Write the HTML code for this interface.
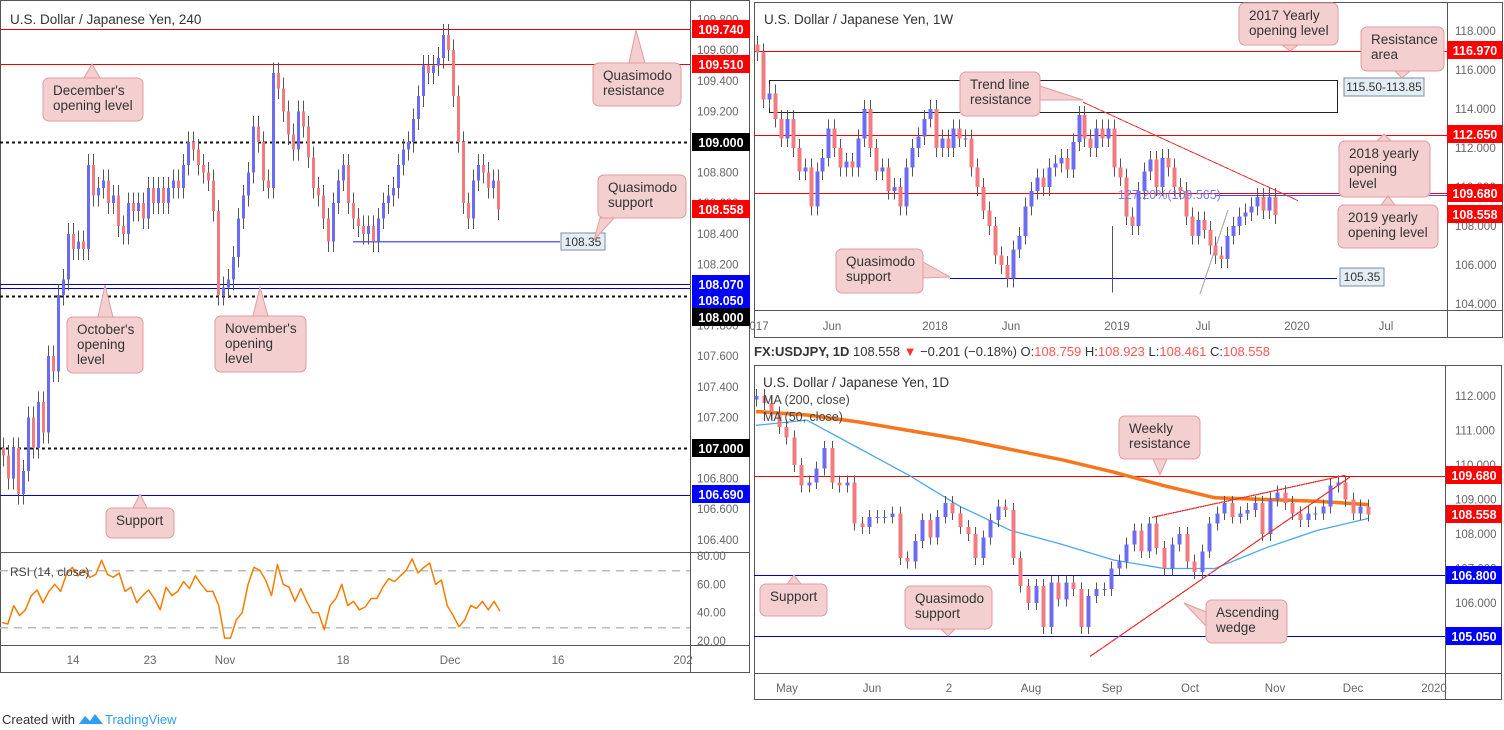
<!DOCTYPE html>
<html><head><meta charset="utf-8"><style>
body{margin:0;background:#fff;}
svg{display:block;font-family:"Liberation Sans",sans-serif;}
line,rect{shape-rendering:crispEdges;}
</style></head><body>
<svg id="s" width="1504" height="730" viewBox="0 0 1504 730" xmlns="http://www.w3.org/2000/svg"></svg>
<script>
// ---- data: 240 (4h) chart ----
const h4Closes=[106.95,106.8,107.0,106.7,106.85,107.2,107.0,107.3,107.1,107.6,107.5,108.0,108.1,108.4,108.3,108.35,108.3,108.85,108.65,108.7,108.75,108.6,108.65,108.45,108.4,108.6,108.55,108.6,108.5,108.7,108.6,108.7,108.6,108.7,108.75,108.7,108.85,109.0,108.95,108.85,108.8,108.75,108.55,108.0,108.05,108.1,108.25,108.5,108.65,108.8,109.1,109.0,108.75,108.7,109.45,109.35,109.2,109.05,108.95,109.2,109.1,108.9,108.7,108.65,108.5,108.35,108.6,108.75,108.85,108.6,108.5,108.45,108.4,108.45,108.35,108.5,108.6,108.65,108.7,108.85,108.95,109.0,109.15,109.3,109.5,109.45,109.5,109.55,109.7,109.6,109.3,109.0,108.6,108.5,108.75,108.85,108.8,108.7,108.75,108.56];
const h4Open0=107.0;
const rsiValues=[33,32,45,38,42,52,56,47,55,60,55,67,72,66,70,65,67,77,67,65,68,55,58,47,52,56,50,42,58,52,55,62,57,66,60,55,55,45,22,22,35,40,60,72,70,63,52,74,60,58,48,57,48,40,40,28,45,50,60,45,48,42,44,50,50,58,64,62,66,70,78,68,72,75,60,63,45,38,30,35,45,43,48,42,48,41];
const h4Ticks=[109.8,109.6,109.4,109.2,108.8,108.6,108.4,108.2,107.8,107.6,107.4,107.2,106.8,106.6,106.4];
const h4TimeLabels=["14","23","Nov","18","Dec","16","202"];
const rsiTicks=[80,60,40,20];
// ---- data: weekly ----
const wkCloses=[116.9,114.5,114.8,113.5,112.5,113.5,112.0,110.8,111.0,109.0,110.8,111.5,113.0,112.0,111.0,111.3,111.0,112.5,114.0,112.0,110.8,111.0,109.8,110.0,109.0,111.0,112.0,112.6,113.5,114.0,112.0,112.5,112.0,113.0,112.5,112.5,111.0,110.0,108.8,108.0,106.5,106.0,105.3,106.8,107.5,109.0,109.8,110.5,110.0,111.0,111.2,111.5,110.9,112.3,113.7,112.5,112.0,113.0,112.5,113.0,111.0,110.5,108.5,108.0,109.8,110.8,111.4,110.0,111.5,111.0,110.0,109.8,108.5,107.5,108.3,107.8,107.0,106.5,106.3,107.5,108.0,108.5,108.7,109.0,109.5,108.8,109.5,108.56];
const wkOpen0=117.3;
const wkTicks=[118,116,114,112,110,108,106,104];
const wkTimeLabels=["017","Jun","2018","Jun","2019","Jul","2020","Jul"];
// ---- data: daily ----
const dCloses=[112.0,111.8,111.5,111.1,110.8,110.0,109.4,109.5,109.9,110.5,109.5,109.4,109.5,108.3,108.2,108.5,108.5,108.5,108.6,107.3,107.2,107.8,108.4,107.9,108.5,108.9,108.6,108.2,108.0,107.3,107.9,108.4,108.8,108.7,107.3,106.5,106.0,106.5,105.3,106.6,106.1,106.6,106.4,105.3,106.2,106.4,106.4,107.0,107.2,107.7,108.1,107.5,108.3,107.6,107.0,107.7,108.0,107.2,106.9,107.5,108.3,108.6,108.9,108.5,108.6,108.7,108.9,108.0,109.0,109.2,108.9,108.6,108.4,108.6,108.6,108.8,109.4,109.5,109.0,108.6,108.8,108.56];
const dOpen0=111.9;
const ma200=[111.55,111.45,111.25,111.0,110.75,110.45,110.15,109.8,109.4,109.05,109.0,108.95,108.85];
const ma50=[111.15,111.3,110.5,109.7,108.8,108.1,107.7,107.25,107.0,107.0,107.6,108.1,108.45];
const dTicks=[112,111,110,109,108,107,106];
const dTimeLabels=["May","Jun","2","Aug","Sep","Oct","Nov","Dec","2020"];

const S=document.getElementById('s');
const NS='http://www.w3.org/2000/svg';
function el(tag,attrs,name,parent){
  const e=document.createElementNS(NS,tag);
  for(const k in attrs)e.setAttribute(k,attrs[k]);
  
  
  (parent||S).appendChild(e);return e;
}
function txt(x,y,s,size,fill,name,extra){
  const a=Object.assign({x:x,y:y,'font-size':size,fill:fill},extra||{});
  const t=el('text',a,name);t.textContent=s;return t;
}
const yH4=p=>142+(109-p)*153;
const yRsi=v=>556+(80-v)*(85/60);
const yWk=p=>31+(118-p)*19.5;
const yD=p=>396+(112-p)*34.5;

const UP='#6c6cf2',DN='#f27b7f';
function candles(closes,open0,x0,x1,yf,wick,bw,name){
  const n=closes.length;const g=el('g',{},name);
  let o=open0;
  for(let i=0;i<n;i++){
    const c=closes[i];const x=Math.round(x0+i*(x1-x0)/(n-1))+0.5;
    const hi=Math.max(o,c)+wick,lo=Math.min(o,c)-wick;
    const col=c>=o?UP:DN;
    el('line',{x1:x,x2:x,y1:yf(hi),y2:yf(lo),stroke:'#555','stroke-width':1},'candle-wick',g);
    const yt=yf(Math.max(o,c)),yb=yf(Math.min(o,c));
    el('rect',{x:x-bw/2,y:yt,width:bw,height:Math.max(1,yb-yt),fill:col},'candle-body',g);
    o=c;
  }
}
function hline(x1,x2,y,col,w,dash,name){el('line',{x1:x1,x2:x2,y1:Math.round(y)+0.5,y2:Math.round(y)+0.5,stroke:col,'stroke-width':w,'stroke-dasharray':dash||'none'},name);}
function priceBox(x,y,w,s,bg,name){el('rect',{x:x,y:y-9,width:w,height:18,fill:bg},name+'-bg');txt(x+w/2,y+5,s,12.5,'#fff',name,{'text-anchor':'middle','font-weight':'bold'});}
function callout(x,y,w,h,lines,tx,ty,bx1,by1,bx2,by2,name){
  const g=el('g',{},name);
  el('polygon',{points:`${bx1},${by1} ${tx},${ty} ${bx2},${by2}`,fill:'#f4cfd0',stroke:'#e39b9e','stroke-width':1},'callout-pointer',g);
  el('rect',{x:x,y:y,width:w,height:h,rx:6,fill:'#f4cfd0',stroke:'#e39b9e','stroke-width':1,'shape-rendering':'auto'},'callout-box',g);
  el('polygon',{points:`${bx1+(bx1<bx2?1.5:bx1>bx2?-1.5:0)},${by1+(by1<by2?1.5:by1>by2?-1.5:0)} ${(bx1+bx2)/2},${(by1+by2)/2} ${bx2},${by2}`,fill:'#f4cfd0'},'callout-seam',g);
  lines.forEach((s,i)=>{const t=el('text',{x:x+10,y:y+17+i*15,'font-size':13.5,fill:'#333'},'callout-text',g);t.textContent=s;});
}
function poly(pts,col,w,name){el('polyline',{points:pts.map(p=>p.join(',')).join(' '),fill:'none',stroke:col,'stroke-width':w,'stroke-linejoin':'round'},name);}

// ================= LEFT PANEL =================
el('rect',{x:0.5,y:0.5,width:749,height:672,fill:'#fff',stroke:'#555'},'h4-panel');
hline(0,750,552,'#555',1,null,'h4-rsi-divider');
hline(0,750,645,'#555',1,null,'h4-time-divider');
el('line',{x1:690.5,x2:690.5,y1:0,y2:672,stroke:'#555'},'h4-price-axis-line');
h4Ticks.forEach(p=>{txt(697,yH4(p)+4,p.toFixed(3),11.5,'#666','h4-price-tick');});
txt(10,24,'U.S. Dollar / Japanese Yen, 240',13.5,'#333','h4-title');
hline(0,690,yH4(109.74),'#e00',1,null,'dec-level-qm-res-line');
hline(0,690,yH4(109.51),'#e00',1,null,'december-opening-line');
hline(0,690,yH4(109),'#111',2,'3,3','level-109');
hline(0,690,yH4(108.07),'#00c',1,null,'october-opening-line');
hline(0,690,yH4(108.05)+1,'#00c',1,null,'november-opening-line');
hline(0,690,yH4(108)+1,'#111',2,'3,3','level-108');
hline(0,690,yH4(107),'#111',2,'3,3','level-107');
hline(0,690,yH4(106.69),'#00c',1,null,'support-line');
hline(353,560,yH4(108.35),'#66f',1.5,null,'qm-support-line');
candles(h4Closes,h4Open0,3,498,yH4,0.07,3,'h4-candles');
el('rect',{x:561,y:233,width:44,height:17,fill:'#e3edf3',stroke:'#7a8fa0'},'qm-label-box');
txt(583,246,'108.35',12,'#333','qm-label',{'text-anchor':'middle'});
priceBox(692,29,58,'109.740','#f00','price-109740');
priceBox(692,64,58,'109.510','#f00','price-109510');
priceBox(692,142,58,'109.000','#000','price-109000');
priceBox(692,209,58,'108.558','#f00','price-108558');
priceBox(692,284,58,'108.070','#00f','price-108070');
priceBox(692,300,58,'108.050','#00f','price-108050');
priceBox(692,317,58,'108.000','#000','price-108000');
priceBox(692,448,58,'107.000','#000','price-107000');
priceBox(692,494,58,'106.690','#00f','price-106690');
callout(43,78,100,43,["December's","opening level"],92,64,84,78,100,78,'december-callout');
callout(593,63,88,43,["Quasimodo","resistance"],636,30,629,63,645,63,'qm-resistance-callout');
callout(598,175,88,43,["Quasimodo","support"],594,240,600,218,614,218,'qm-support-callout');
callout(67,317,76,56,["October's","opening","level"],105,285,98,317,113,317,'october-callout');
callout(215,316,91,56,["November's","opening","level"],260,287,253,316,268,316,'november-callout');
callout(106,508,68,30,["Support"],140,494,133,508,147,508,'support-callout');
hline(0,690,yRsi(70),'#bbb',1.5,'8,6','rsi-70');
hline(0,690,yRsi(30),'#bbb',1.5,'8,6','rsi-30');
poly(rsiValues.map((v,i)=>[2+i*(500-2)/(rsiValues.length-1),yRsi(v)]),'#f57c00',1.5,'rsi-line');
txt(10,576,'RSI (14, close)',12,'#444','rsi-title');
rsiTicks.forEach(v=>txt(697,yRsi(v)+4,v.toFixed(2),11.5,'#666','rsi-tick'));
const h4TX=[73,150,225,343,450,558,683];
h4TimeLabels.forEach((s,i)=>txt(h4TX[i],664,s,11.5,'#666','h4-time-label',{'text-anchor':'middle'}));

// ================= WEEKLY PANEL =================
el('rect',{x:754.5,y:2.5,width:748,height:335,fill:'#fff',stroke:'#555'},'weekly-panel');
el('line',{x1:1447.5,x2:1447.5,y1:2,y2:337,stroke:'#555'},'wk-price-axis-line');
hline(754,1503,310,'#555',1,null,'wk-time-divider');
wkTicks.forEach(p=>txt(1455,yWk(p)+4,p.toFixed(3),11.5,'#666','wk-price-tick'));
el('rect',{x:769.5,y:Math.round(yWk(115.5))+0.5,width:568,height:Math.round(yWk(113.85)-yWk(115.5)),fill:'none',stroke:'#222'},'resistance-area-box');
hline(754,1447,yWk(116.97),'#e00',1,null,'2017-open-line');
hline(754,1447,yWk(112.65),'#e00',1,null,'2018-open-line');
hline(754,1447,yWk(109.68),'#e00',1,null,'2019-open-line');
hline(1215,1447,yWk(109.565),'#44f',1,null,'fib-line');
hline(950,1337,yWk(105.35),'#00f',1,null,'wk-qm-support-line');
el('line',{x1:1200,y1:294,x2:1228,y2:210,stroke:'#aaa','stroke-width':1,'shape-rendering':'auto'},'fib-guide');
candles(wkCloses,wkOpen0,757,1275,yWk,0.45,4,'wk-candles');
el('line',{x1:1112.5,x2:1112.5,y1:yWk(108),y2:yWk(104.6),stroke:'#555','stroke-width':1},'flash-crash-wick');
el('line',{x1:1083,y1:yWk(114.35),x2:1298,y2:yWk(109.3),stroke:'#e33','stroke-width':1,'shape-rendering':'auto'},'trend-line-resistance');
txt(1118,199,'127.20%(109.565)',12.5,'#7a7af0','fib-label');
txt(764,24,'U.S. Dollar / Japanese Yen, 1W',13.5,'#333','wk-title');
el('rect',{x:1344,y:78,width:80,height:18,fill:'#e3edf3',stroke:'#7a8fa0'},'area-label-box');
txt(1384,91,'115.50-113.85',12,'#333','area-label',{'text-anchor':'middle'});
el('rect',{x:1340,y:268,width:44,height:18,fill:'#e3edf3',stroke:'#7a8fa0'},'wk-qm-label-box');
txt(1362,281,'105.35',12,'#333','wk-qm-label',{'text-anchor':'middle'});
priceBox(1447,50,56,'116.970','#f00','price-116970');
priceBox(1447,134,56,'112.650','#f00','price-112650');
priceBox(1447,193,56,'109.680','#f00','price-109680');
priceBox(1447,214,56,'108.558','#f00','price-108558-wk');
callout(1239,3,99,42,["2017 Yearly","opening level"],1290,51,1282,45,1298,45,'2017-callout');
callout(1361,27,83,44,["Resistance","area"],1402,78,1395,71,1410,71,'resistance-area-callout');
callout(960,72,80,44,["Trend line","resistance"],1083,100,1040,86,1040,100,'trendline-callout');
callout(1339,141,91,56,["2018 yearly","opening","level"],1384,134,1377,141,1391,141,'2018-callout');
callout(1338,205,100,43,["2019 yearly","opening level"],1388,196,1381,205,1395,205,'2019-callout');
callout(836,249,87,44,["Quasimodo","support"],950,277,923,262,923,278,'wk-qm-callout');
const wkTX=[759,832,935,1011,1117,1203,1297,1386];
wkTimeLabels.forEach((s,i)=>txt(wkTX[i],330,s,11.5,'#666','wk-time-label',{'text-anchor':'middle'}));

// ================= DAILY PANEL =================
const hdr=el('text',{x:754,y:356,'font-size':13,fill:'#333'},'daily-header');
hdr.innerHTML='<tspan font-weight="bold">FX:USDJPY, 1D</tspan> 108.558 <tspan fill="#f33">▼</tspan> −0.201 (−0.18%) O:<tspan fill="#f55">108.759</tspan> H:<tspan fill="#f55">108.923</tspan> L:<tspan fill="#f55">108.461</tspan> C:<tspan fill="#f55">108.558</tspan>';
el('rect',{x:754.5,y:365.5,width:747,height:334,fill:'#fff',stroke:'#555'},'daily-panel');
el('line',{x1:1445.5,x2:1445.5,y1:365,y2:700,stroke:'#555'},'d-price-axis-line');
hline(754,1502,673,'#555',1,null,'d-time-divider');
dTicks.forEach(p=>txt(1455,yD(p)+4,p.toFixed(3),11.5,'#666','d-price-tick'));
hline(754,1445,yD(109.68),'#e00',1,null,'weekly-resistance-line');
hline(754,1445,yD(106.8),'#00c',1,null,'d-support-line');
hline(754,1445,yD(105.05),'#00c',1,null,'d-qm-support-line');
const maX=i=>756+i*(1368-756)/(ma200.length-1);
poly(ma200.map((v,i)=>[maX(i),yD(v)]),'#f7761b',3.5,'ma200-line');
poly(ma50.map((v,i)=>[maX(i),yD(v)]),'#4aa8f0',1.3,'ma50-line');
candles(dCloses,dOpen0,756,1368,yD,0.2,4,'d-candles');
el('line',{x1:1152,y1:yD(108.48),x2:1345,y2:yD(109.7),stroke:'#e33','stroke-width':1.2,'shape-rendering':'auto'},'wedge-upper');
el('line',{x1:1090,y1:yD(104.45),x2:1350,y2:yD(109.65),stroke:'#e33','stroke-width':1.2,'shape-rendering':'auto'},'wedge-lower');
txt(763,387,'U.S. Dollar / Japanese Yen, 1D',13.5,'#333','d-title');
txt(763,404,'MA (200, close)',12.5,'#444','ma200-legend');
txt(763,421,'MA (50, close)',12.5,'#444','ma50-legend');
priceBox(1446,475,56,'109.680','#f00','price-109680-d');
priceBox(1446,514,56,'108.558','#f00','price-108558-d');
priceBox(1446,575,56,'106.800','#00f','price-106800');
priceBox(1446,636,56,'105.050','#00f','price-105050');
callout(1119,416,81,43,["Weekly","resistance"],1160,475,1153,459,1167,459,'weekly-resistance-callout');
callout(760,584,67,32,["Support"],794,575,787,584,801,584,'d-support-callout');
callout(905,586,87,43,["Quasimodo","support"],948,636,941,629,955,629,'d-qm-callout');
callout(1206,600,81,43,["Ascending","wedge"],1184,603,1206,612,1206,626,'wedge-callout');
const dTX=[787,872,949,1031,1112,1190,1275,1353,1434];
dTimeLabels.forEach((s,i)=>txt(dTX[i],692,s,11.5,'#666','d-time-label',{'text-anchor':'middle'}));

// footer
txt(2,724,'Created with',13,'#333','created-with');
el('path',{d:'M79 724 l6 -8 l5 5 l5 -7 l8 10 z',fill:'#2f9df4'},'tradingview-logo');
txt(105,724,'TradingView',13,'#2f9df4','tradingview-link');
</script>
</body></html>
